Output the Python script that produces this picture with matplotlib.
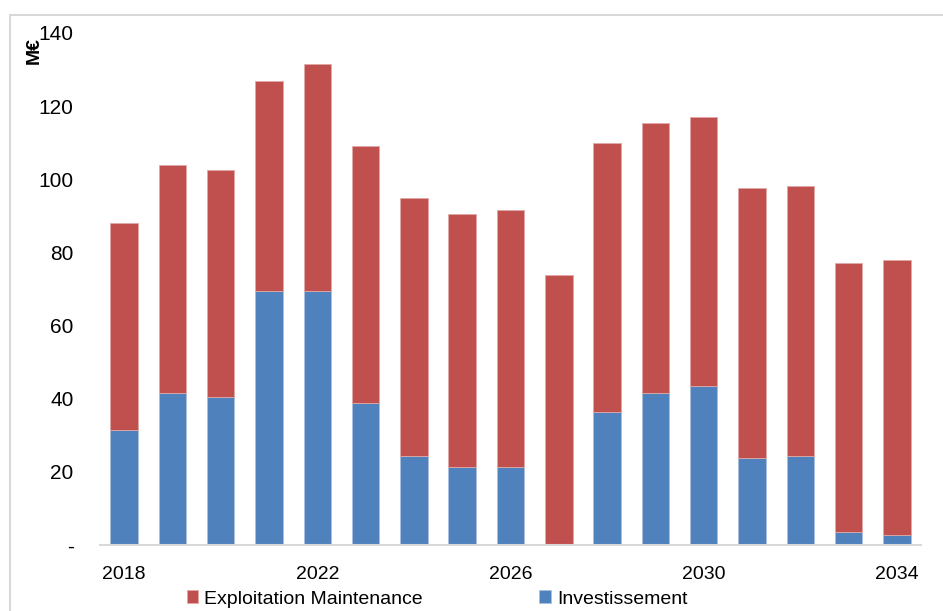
import matplotlib
matplotlib.use("Agg")
import matplotlib.pyplot as plt
from matplotlib.patches import Rectangle
import numpy as np

years = list(range(2018, 2035))
investissement = [31.5, 41.5, 40.5, 69.5, 69.5, 38.8, 24.3, 21.3, 21.3, 0, 36.5, 41.5, 43.5, 23.8, 24.3, 3.5, 2.7]
totals = [88, 104, 102.5, 127, 131.5, 109, 95, 90.5, 91.5, 73.8, 110, 115.3, 117, 97.7, 98.2, 77, 77.8]
exploitation = [t - i for t, i in zip(totals, investissement)]
tick_years = [2018, 2022, 2026, 2030, 2034]

BLUE = "#4F81BD"
RED = "#C0504D"

plt.rcParams['font.family'] = ['Liberation Sans', 'DejaVu Sans']

fig = plt.figure(figsize=(9.43, 6.11), dpi=100)
ax = fig.add_axes([100 / 943, 66 / 611, 821 / 943, 512 / 611])

# outer chart frame
fig.patches.append(Rectangle((10 / 943, -0.1), 1.2, (611 - 15) / 611 + 0.1,
                             transform=fig.transFigure, fill=False,
                             edgecolor="#d9d9d9", linewidth=1.5))

x = np.arange(len(years))
w = 0.57
ax.bar(x, investissement, w, color=BLUE, edgecolor="#a9c0df", linewidth=0.6,
       label="Investissement", zorder=2)
ax.bar(x, exploitation, w, bottom=investissement, color=RED, edgecolor="#e0a9a7",
       linewidth=0.6, label="Exploitation Maintenance", zorder=2)

ax.set_xlim(-0.5, len(years) - 0.5)
ax.set_ylim(0, 140)
ax.set_yticks(range(0, 141, 20))
ax.set_yticklabels(["-"] + [str(v) for v in range(20, 141, 20)], fontsize=15)
ax.set_xticks([years.index(y) for y in tick_years])
ax.set_xticklabels([str(y) for y in tick_years], fontsize=14)
ax.tick_params(axis="y", length=0, pad=19)
ax.tick_params(axis="x", length=0, pad=15)

for s in ["top", "right", "left"]:
    ax.spines[s].set_visible(False)
ax.spines["bottom"].set_color("#d9d9d9")
ax.spines["bottom"].set_linewidth(1.5)

fig.text(34 / 943, (611 - 50) / 611, "M€", rotation=90, fontsize=14,
         fontweight="bold", ha="center", va="center")

handles, labels = ax.get_legend_handles_labels()
fig.legend(handles[::-1], labels[::-1], loc="center", ncol=2,
           bbox_to_anchor=(437 / 943, 12 / 611), frameon=False, fontsize=14,
           handlelength=0.6, handleheight=0.6, handletextpad=0.3,
           columnspacing=6, borderpad=0)

fig.savefig("out.png", dpi=100)
